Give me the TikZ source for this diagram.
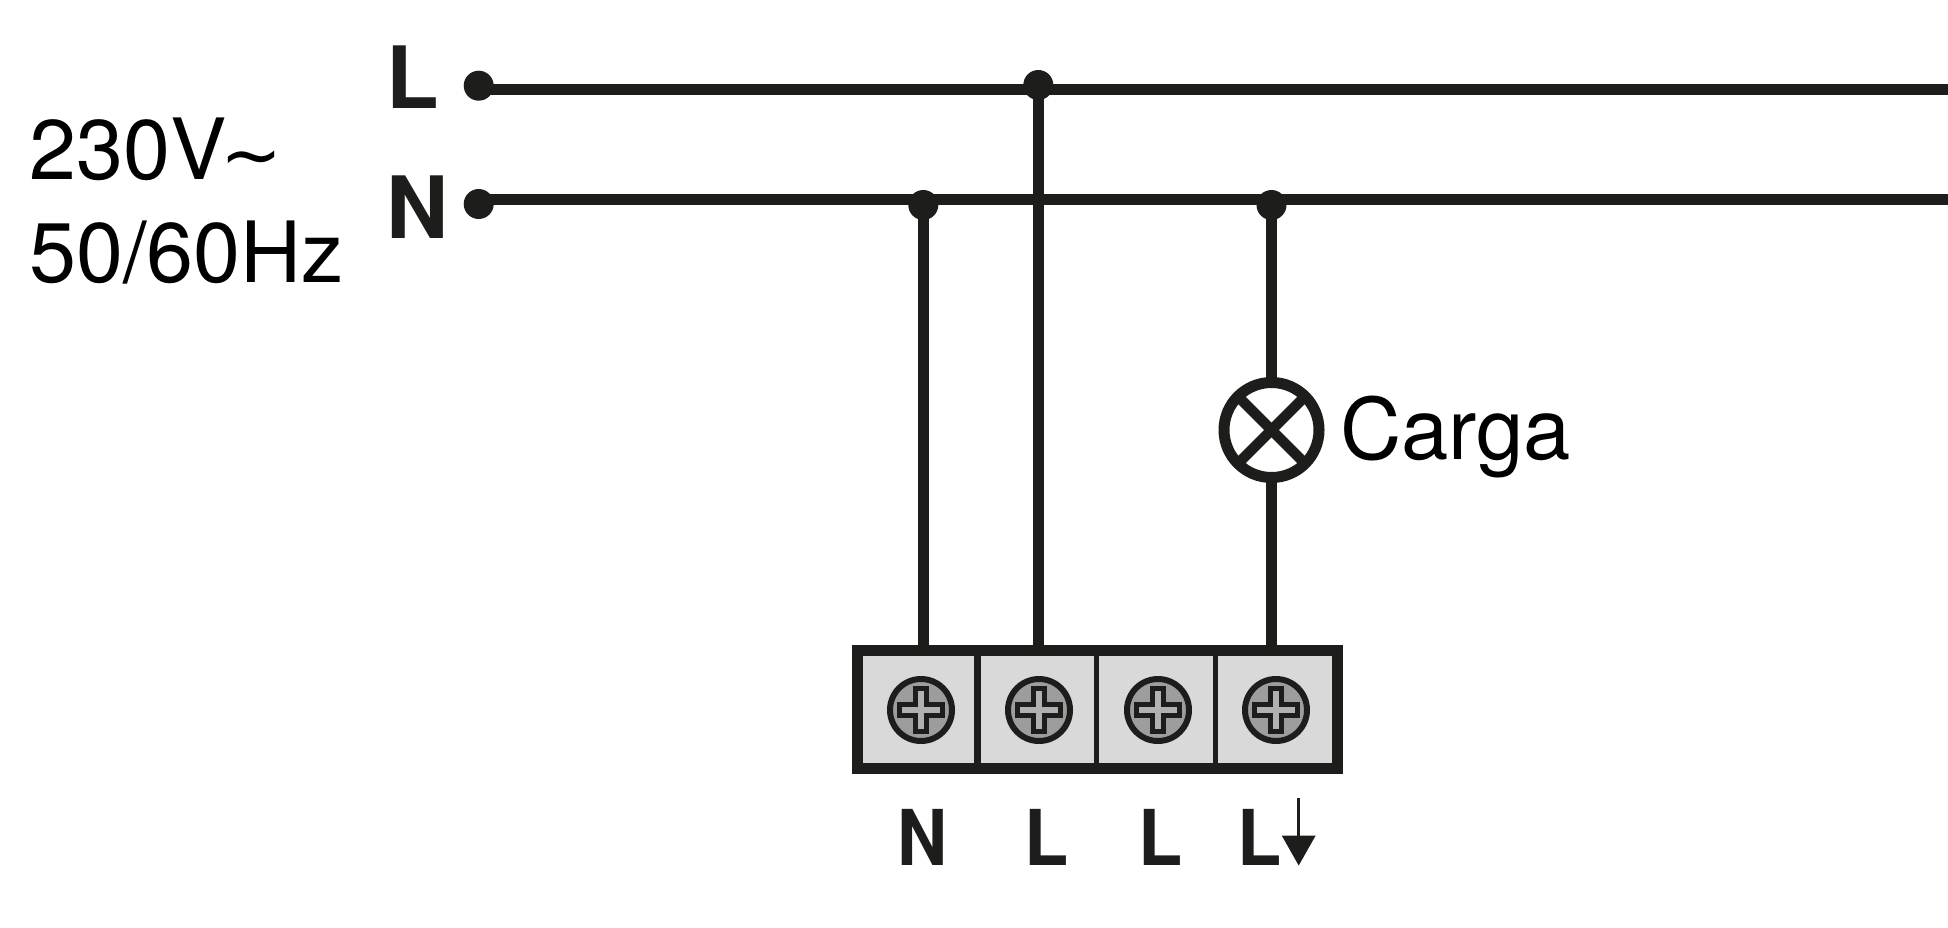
\documentclass[tikz,border=0pt]{standalone}
\usepackage{fontspec}
\usepackage{graphicx}
\setmainfont{TeX Gyre Heros}
\newfontfamily\symfont{DejaVu Sans}
\definecolor{ink}{HTML}{1D1D1B}
\definecolor{termfill}{HTML}{D9D9D9}
\definecolor{screwfill}{HTML}{9D9D9D}
\tikzset{
  wire/.style={draw=ink,line width=11pt},
  termdot/.style={circle,fill=ink,inner sep=0pt,minimum size=30pt},
  junction/.style={circle,fill=ink,inner sep=0pt,minimum size=30pt},
  cell/.style={draw=ink,fill=termfill,line width=5pt,minimum width=118.5pt,minimum height=119pt,inner sep=0pt,outer sep=0pt},
  screw/.style={circle,draw=ink,fill=screwfill,line width=6pt,minimum size=62pt,inner sep=0pt},
  lamp/.style={circle,draw=ink,fill=white,line width=11pt,minimum size=95pt,inner sep=0pt,outer sep=0pt},
  bigtext/.style={anchor=base west,inner sep=0pt,font=\fontsize{84.5pt}{84.5pt}\selectfont,text=black},
  boldlabel/.style={anchor=base west,inner sep=0pt,font=\fontsize{86pt}{86pt}\selectfont\bfseries,text=ink},
  termlabel/.style={anchor=base west,inner sep=0pt,font=\fontsize{77pt}{77pt}\selectfont\bfseries,text=ink},
}
\newcommand{\crosspath}[1]{%
  \filldraw[draw=ink,fill=screwfill!80!white,line width=5.5pt,miter limit=4] ($(#1)+(-5.5,-21.5)$) -- ($(#1)+(5.5,-21.5)$) -- ($(#1)+(5.5,-5.5)$) -- ($(#1)+(21.5,-5.5)$) -- ($(#1)+(21.5,5.5)$) -- ($(#1)+(5.5,5.5)$) -- ($(#1)+(5.5,21.5)$) -- ($(#1)+(-5.5,21.5)$) -- ($(#1)+(-5.5,5.5)$) -- ($(#1)+(-21.5,5.5)$) -- ($(#1)+(-21.5,-5.5)$) -- ($(#1)+(-5.5,-5.5)$) -- cycle;}
\usetikzlibrary{calc}
\begin{document}
\begin{tikzpicture}[x=1pt,y=-1pt]
\useasboundingbox (0,0) rectangle (1948,928);
% texts
\node[bigtext] (v) at (29,180) {230V\hspace{-6pt}\raisebox{-1pt}{\fontsize{74pt}{74pt}\selectfont\symfont ∼}};
\node[bigtext] (hz) at (29,282) {50/60Hz};
\node[boldlabel] (tL) at (386,109) {L};
\node[boldlabel] (tN) at (386,238) {N};
\node[anchor=base west,inner sep=0pt,font=\fontsize{85pt}{85pt}\selectfont,text=black] (carga) at (1340,459) {Carga};
% points
\node[termdot] (Ld) at (478.7,85.7) {};
\node[termdot] (Nd) at (478.7,204) {};
\coordinate (Ls) at (478.7,89.7);
\coordinate (Ns) at (478.7,199.7);
\coordinate (Le) at (1948,89.7);
\coordinate (Ne) at (1948,199.7);
\node[junction] (JL) at (1038.3,85) {};
\node[junction] (JN1) at (923.3,205) {};
\node[junction] (JN2) at (1271.5,205) {};
% wires
\draw[wire] (Ls) -- (Le);
\draw[wire] (Ns) -- (Ne);
% terminal block
\node[cell] (c1) at (917.5,709.5) {};
\node[cell] (c2) at (1037.5,709.5) {};
\node[cell] (c3) at (1156,709.5) {};
\node[cell,minimum width=123pt] (c4) at (1276.5,709.5) {};
\draw[ink,line width=11pt] (857.5,650.5) rectangle (1337.5,768.5);
\coordinate (T1) at (923.3,650);
\coordinate (T2) at (1038.3,650);
\coordinate (T4) at (1271.5,650);
\draw[wire] (JN1.center) -- (T1);
\draw[wire] (JL.center) -- (T2);
% lamp
\node[lamp] (lamp) at (1271.5,430) {};
\draw[wire] (JN2.center) -- (lamp.north);
\draw[wire] (lamp.south) -- (T4);
\draw[ink,line width=10.5pt] (lamp.north west) -- (lamp.south east);
\draw[ink,line width=10.5pt] (lamp.north east) -- (lamp.south west);
% screws
\node[screw] (s1) at (921,710) {};
\node[screw] (s2) at (1039,710) {};
\node[screw] (s3) at (1158,710) {};
\node[screw] (s4) at (1276,710) {};
\crosspath{s1.center}\crosspath{s2.center}\crosspath{s3.center}\crosspath{s4.center}
% labels
\node[termlabel] (n1) at (897,865) {\scalebox{.9}[1]{N}};
\node[termlabel] (l1) at (1024,865) {\scalebox{.94}[1]{L}};
\node[termlabel] (l2) at (1138,865) {\scalebox{.94}[1]{L}};
\node[termlabel] (l3) at (1237,865) {\scalebox{.94}[1]{L}};
\coordinate (a0) at (1298.7,798);
\coordinate (a1) at (1298.7,840);
\draw[ink,line width=3pt] (a0) -- (a1);
\fill[ink] (1281.7,835.5) -- (1315.7,835.5) -- (1298.7,865.5) -- cycle;
\end{tikzpicture}
\end{document}
